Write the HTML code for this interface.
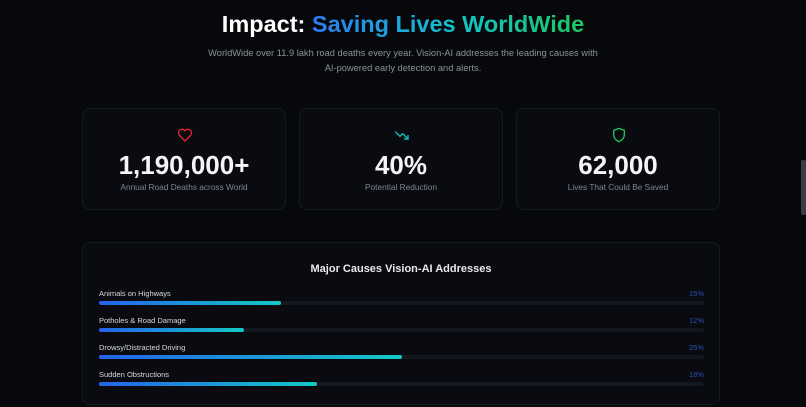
<!DOCTYPE html>
<html><head><style>
*{margin:0;padding:0;box-sizing:border-box}
body{width:806px;height:407px;overflow:hidden;background:#07080c;font-family:"Liberation Sans",sans-serif;position:relative;color:#fff}
.t{position:absolute;left:0;width:806px;text-align:center}
h1{font-size:23.5px;font-weight:bold;top:11px}
.g{background:linear-gradient(90deg,#2f7cf0,#10c4c8 55%,#22c55e);-webkit-background-clip:text;color:transparent}
.sub{font-size:9.3px;color:#8b9099;line-height:15px;top:46px}
.card{position:absolute;top:108px;width:204px;height:102px;border:1px solid #161a21;border-radius:8px;background:#090b10;text-align:center}
.card svg{position:absolute;left:94px;top:18px}
.num{position:absolute;top:41px;width:100%;font-size:26px;font-weight:bold;color:#f4f5f7}
.lab{position:absolute;top:73px;width:100%;font-size:8.3px;color:#80858e}
.panel{position:absolute;left:82px;top:242px;width:638px;height:163px;border:1px solid #161a21;border-radius:8px;background:#090b10}
.pt{position:absolute;top:20px;width:100%;text-align:center;font-size:11px;font-weight:bold;color:#e8e9ec}
.row{position:absolute;left:16px;width:605px}
.rl{font-size:7.5px;color:#d8dade}
.rp{position:absolute;right:0;top:0;font-size:7.5px;color:#2b4fb5}
.tr{position:absolute;top:12px;left:0;width:100%;height:4px;border-radius:2px;background:#131720}
.f{height:4px;border-radius:2px;background:linear-gradient(90deg,#2563eb,#14c9c4)}
.sb{position:absolute;left:801px;top:160px;width:5px;height:55px;background:#3a3d44;border-radius:2px}
</style></head><body>
<h1 class="t">Impact: <span class="g">Saving Lives WorldWide</span></h1>
<div class="t sub">WorldWide over 11.9 lakh road deaths every year. Vision-AI addresses the leading causes with<br>AI-powered early detection and alerts.</div>
<div class="card" style="left:82px"><svg width="16" height="16" viewBox="0 0 24 24" fill="none" stroke="#e5262f" stroke-width="2"><path d="M12 21l-8.5-8.6A5 5 0 0 1 12 5.5a5 5 0 0 1 8.5 6.9z"/></svg><div class="num">1,190,000+</div><div class="lab">Annual Road Deaths across World</div></div>
<div class="card" style="left:299px"><svg width="16" height="16" viewBox="0 0 24 24" fill="none" stroke="#14b8b0" stroke-width="2.2"><path d="M2 7l7 7 4-4 8 8M21 12v6h-6"/></svg><div class="num">40%</div><div class="lab">Potential Reduction</div></div>
<div class="card" style="left:516px"><svg width="16" height="16" viewBox="0 0 24 24" fill="none" stroke="#22c55e" stroke-width="2"><path d="M12 2l8 3v6c0 5-3.5 9-8 11-4.5-2-8-6-8-11V5z"/></svg><div class="num">62,000</div><div class="lab">Lives That Could Be Saved</div></div>
<div class="panel"><div class="pt">Major Causes Vision-AI Addresses</div>
<div class="row" style="top:46px"><div class="rl">Animals on Highways</div><div class="rp">15%</div><div class="tr"><div class="f" style="width:30%"></div></div></div>
<div class="row" style="top:73px"><div class="rl">Potholes &amp; Road Damage</div><div class="rp">12%</div><div class="tr"><div class="f" style="width:24%"></div></div></div>
<div class="row" style="top:100px"><div class="rl">Drowsy/Distracted Driving</div><div class="rp">25%</div><div class="tr"><div class="f" style="width:50%"></div></div></div>
<div class="row" style="top:127px"><div class="rl">Sudden Obstructions</div><div class="rp">18%</div><div class="tr"><div class="f" style="width:36%"></div></div></div>
</div>
<div class="sb"></div>
</body></html>
